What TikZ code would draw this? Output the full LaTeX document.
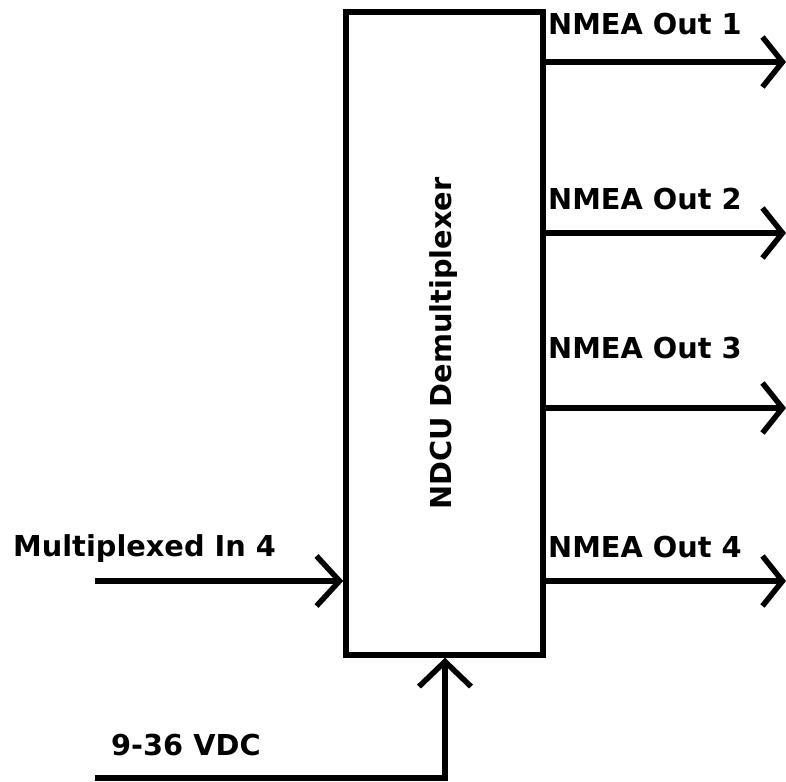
\documentclass[tikz,border=0pt]{standalone}
\usepackage{fontspec}
\setmainfont{DejaVu Sans}[BoldFont={DejaVu Sans Bold}]
\usetikzlibrary{arrows.meta}
\begin{document}
\begin{tikzpicture}[x=1pt,y=-1pt,
  wire/.style={line width=5.5pt},
  chev/.style={wire,-{Straight Barb[length=20pt,width=50pt,line cap=butt]}},
  lbl/.style={inner sep=0pt,font=\fontsize{28.8}{31}\selectfont\bfseries},
  blockbox/.style={draw,line width=5.5pt,minimum width=197pt,minimum height=643pt,inner sep=0pt}]
\useasboundingbox (0,0) rectangle (786,781);
\node[blockbox] (box) at (444.5,333.5) {};
\node[lbl,rotate=90,anchor=base] (title) at (451,343.5) {NDCU Demultiplexer};
% outputs
\coordinate (o1) at (786,62);
\coordinate (o2) at (786,233);
\coordinate (o3) at (786,408);
\coordinate (o4) at (786,581);
\draw[chev] (box.east |- o1) -- (o1);
\draw[chev] (box.east |- o2) -- (o2);
\draw[chev] (box.east |- o3) -- (o3);
\draw[chev] (box.east |- o4) -- (o4);
\node[lbl,anchor=base west] (t1) at (548,35) {NMEA Out 1};
\node[lbl,anchor=base west] (t2) at (548,209) {NMEA Out 2};
\node[lbl,anchor=base west] (t3) at (548,358) {NMEA Out 3};
\node[lbl,anchor=base west] (t4) at (548,557) {NMEA Out 4};
% input
\coordinate (in) at (95,581);
\draw[chev,-{Straight Barb[length=23pt,width=50pt,line cap=butt]}] (in) -- (box.west |- in);
\node[lbl,anchor=base west] (tin) at (13,556) {Multiplexed In 4};
% power
\coordinate (pw) at (95,778);
\coordinate (pc) at (445,778);
\draw[chev,-{Straight Barb[length=25pt,width=52pt,line cap=butt]}] (pw) -- (pc) -- (box.south -| pc);
\node[lbl,anchor=base west] (tpw) at (111,755) {9-36 VDC};
\end{tikzpicture}
\end{document}
